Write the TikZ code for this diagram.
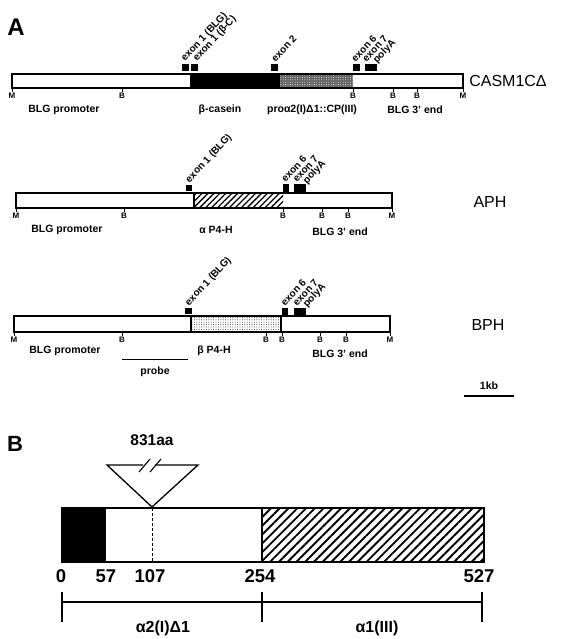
\documentclass[tikz,border=0pt]{standalone}
\usepackage{fontspec}
\setmainfont{Liberation Sans}
\usetikzlibrary{patterns,patterns.meta}
\begin{document}
\begin{tikzpicture}[x=1pt,y=-1pt,
  box/.style={draw=black, line width=1.3pt},
  sq/.style={fill=black, draw=none},
  tick/.style={line width=0.8pt},
  exonlbl/.style={font=\bfseries\fontsize{10}{11}\selectfont, rotate=47, anchor=west, inner sep=0pt},
  sitelbl/.style={font=\bfseries\fontsize{8}{9}\selectfont, anchor=north, inner sep=0pt},
  reglbl/.style={font=\bfseries\fontsize{10.5}{12}\selectfont, inner sep=0pt},
  namelbl/.style={font=\fontsize{16}{18}\selectfont, inner sep=0pt},
  panellbl/.style={font=\bfseries\fontsize{24}{26}\selectfont, inner sep=0pt},
  numlbl/.style={font=\bfseries\fontsize{18.5}{20}\selectfont, inner sep=0pt},
  seglbl/.style={font=\bfseries\fontsize{16}{18}\selectfont, inner sep=0pt},
  hatchA/.style={pattern={Lines[angle=45,distance=4.2pt,line width=1.3pt]}},
  hatchB/.style={pattern={Lines[angle=45,distance=6.2pt,line width=1.9pt]}},
  stipdark/.style={pattern={Dots[distance=2.4pt,radius=0.5pt]}, pattern color=white},
  stiplight/.style={pattern={Dots[distance=2.4pt,radius=0.5pt]}, pattern color=black!80}
]
\useasboundingbox (0,0) rectangle (560,639);

\node[panellbl] (labA) at (16,27) {A};

% ---------------- Row 1: CASM1CDelta
\fill[black] (190,74) rectangle (280,88);
\fill[black!62] (280,74) rectangle (353,88);
\path[stipdark] (280,74) rectangle (353,88);
\draw[box] (12,74) rectangle (463,88);
\foreach \x/\l/\n in {12/M/a,122/B/b,353/B/c,393/B/d,417/B/e,463/M/f}{
  \draw[tick] (\x,88) -- (\x,92);
  \node[sitelbl] (r1s\n) at (\x,92.5) {\l};
}
\fill[sq] (182,64) rectangle (189,71);
\fill[sq] (191,64) rectangle (198,71);
\fill[sq] (271,64) rectangle (278,71);
\fill[sq] (353,64) rectangle (360,71);
\fill[sq] (365,64) rectangle (377,71);
\node[exonlbl] (r1e1) at (183,60) {exon 1 (BLG)};
\node[exonlbl] (r1e1c) at (195,60) {exon 1 (β-C)};
\node[exonlbl] (r1e2) at (273,60) {exon 2};
\node[exonlbl] (r1e6) at (353,60) {exon 6};
\node[exonlbl] (r1e7) at (364,60) {exon 7};
\node[exonlbl] (r1pa) at (375,62) {polyA};
\node[reglbl] (r1p) at (64,110) {BLG promoter};
\node[reglbl] (r1c) at (220,110) {β-casein};
\node[reglbl] (r1pro) at (312,110) {proα2(I)Δ1::CP(III)};
\node[reglbl] (r1end) at (415,110) {BLG 3' end};
\node[namelbl] (r1name) at (508,81) {CASM1CΔ};

% ---------------- Row 2: APH
\path[hatchA] (194,193) rectangle (283,208);
\draw[box] (16,193) rectangle (392,208);
\draw[box] (194,193) -- (194,208);
\foreach \x/\l/\n in {16/M/a,124/B/b,283/B/c,322/B/d,348/B/e,392/M/f}{
  \draw[tick] (\x,208) -- (\x,212);
  \node[sitelbl] (r2s\n) at (\x,212.5) {\l};
}
\fill[sq] (186,185) rectangle (192,191);
\fill[sq] (283,184) rectangle (288.5,191.5);
\fill[sq] (294,184) rectangle (306,191.5);
\node[exonlbl] (r2e1) at (187.5,181.5) {exon 1 (BLG)};
\node[exonlbl] (r2e6) at (283,180.5) {exon 6};
\node[exonlbl] (r2e7) at (294.5,180.5) {exon 7};
\node[exonlbl] (r2pa) at (305,182.5) {polyA};
\node[reglbl] (r2p) at (67,230) {BLG promoter};
\node[reglbl] (r2a) at (216,230) {α P4-H};
\node[reglbl] (r2end) at (340,232) {BLG 3' end};
\node[namelbl] (r2name) at (490,202) {APH};

% ---------------- Row 3: BPH
\path[stiplight] (191,316) rectangle (281,332);
\draw[box] (14,316) rectangle (390,332);
\draw[box] (191,316) -- (191,332);
\draw[box] (281,316) -- (281,332);
\foreach \x/\l/\n in {14/M/a,122/B/b,266/B/c,282/B/d,320/B/e,346/B/f,390/M/g}{
  \draw[tick] (\x,332) -- (\x,336);
  \node[sitelbl] (r3s\n) at (\x,336.5) {\l};
}
\fill[sq] (185,308) rectangle (191.5,314);
\fill[sq] (282,308) rectangle (288,314.5);
\fill[sq] (294,308) rectangle (306,314.5);
\node[exonlbl] (r3e1) at (187,304.5) {exon 1 (BLG)};
\node[exonlbl] (r3e6) at (282.5,304) {exon 6};
\node[exonlbl] (r3e7) at (294.5,304) {exon 7};
\node[exonlbl] (r3pa) at (305,306) {polyA};
\node[reglbl] (r3p) at (65,351) {BLG promoter};
\node[reglbl] (r3b) at (214,351) {β P4-H};
\node[reglbl] (r3end) at (340,354) {BLG 3' end};
\node[namelbl] (r3name) at (488,325) {BPH};
\coordinate (prL) at (122,359);
\coordinate (prR) at (188,359);
\draw[line width=1pt] (prL) -- (prR);
\node[reglbl] (probe) at (155,372) {probe};

% scale bar
\coordinate (kbL) at (464,396);
\coordinate (kbR) at (514,396);
\draw[line width=2.4pt] (kbL) -- (kbR);
\node[reglbl] (kb) at (489,386) {1kb};

% ---------------- Panel B
\node[panellbl, font=\bfseries\fontsize{22}{24}\selectfont] (labB) at (15,444) {B};
\node[font=\bfseries\fontsize{15.5}{17}\selectfont, inner sep=0pt] (aa) at (152,440) {831aa};
\coordinate (tL) at (107,465);
\coordinate (tR) at (198,465);
\coordinate (tA) at (152,507);
\coordinate (g1) at (143,465);
\coordinate (g2) at (155,465);
\draw[line width=1.3pt, line join=miter] (g1) -- (tL) -- (tA) -- (tR) -- (g2);
\draw[line width=1.1pt] (139,472) -- (150,459);
\draw[line width=1.1pt] (150,472) -- (161,459);

\fill[black] (62,508) rectangle (106,562);
\path[hatchB] (262,508) rectangle (484,562);
\draw[line width=1.4pt] (62,508) rectangle (484,562);
\draw[line width=1.4pt] (262,508) -- (262,562);
\draw[line width=1pt, dashed, dash pattern=on 3pt off 2pt] (152,508) -- (152,562);

\node[numlbl] (n0) at (61,576) {0};
\node[numlbl] (n57) at (106,576) {57};
\node[numlbl] (n107) at (150,576) {107};
\node[numlbl] (n254) at (260,576) {254};
\node[numlbl] (n527) at (479,576) {527};

\coordinate (bL) at (62,602);
\coordinate (bM) at (262,602);
\coordinate (bR) at (482,602);
\draw[line width=1.4pt] (bL) -- (bR);
\draw[line width=1.4pt] (62,592) -- (62,622);
\draw[line width=1.4pt] (262,592) -- (262,622);
\draw[line width=1.4pt] (482,592) -- (482,622);
\node[seglbl] (s1) at (163,628) {α2(I)Δ1};
\node[seglbl] (s2) at (377,628) {α1(III)};
\end{tikzpicture}
\end{document}
